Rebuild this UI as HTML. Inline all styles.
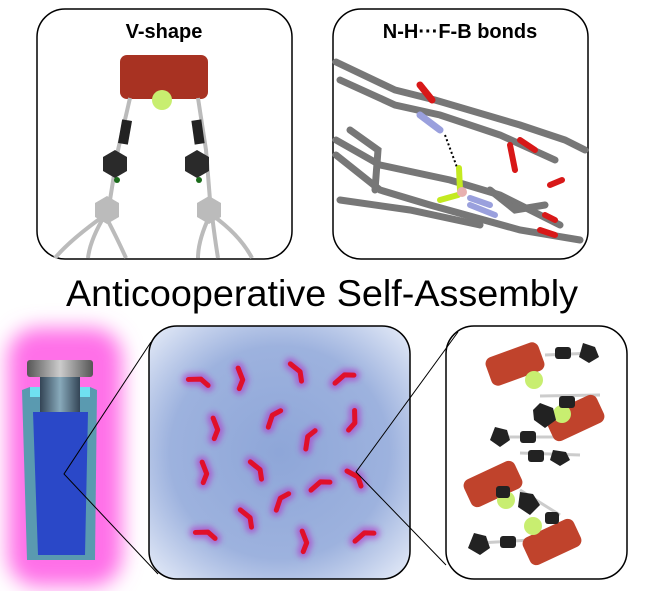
<!DOCTYPE html>
<html><head><meta charset="utf-8"><style>
html,body{margin:0;padding:0;background:#fff;}
svg{display:block;}
</style></head><body>
<svg width="650" height="591" viewBox="0 0 650 591" xmlns="http://www.w3.org/2000/svg">
<defs>
<radialGradient id="mid" cx="50%" cy="50%" r="70%">
<stop offset="0" stop-color="#8ea6d8"/><stop offset="0.6" stop-color="#9db2de"/><stop offset="1" stop-color="#e6ecf8"/>
</radialGradient>
<filter id="blur" x="-50%" y="-50%" width="200%" height="200%"><feGaussianBlur stdDeviation="10"/></filter>
<filter id="gl" x="-100%" y="-100%" width="300%" height="300%"><feGaussianBlur stdDeviation="3"/></filter>
<linearGradient id="cap" x1="0" x2="1"><stop offset="0" stop-color="#555"/><stop offset="0.5" stop-color="#ccc"/><stop offset="1" stop-color="#555"/></linearGradient>
<linearGradient id="neck" x1="0" x2="1"><stop offset="0" stop-color="#345"/><stop offset="0.5" stop-color="#8ab"/><stop offset="1" stop-color="#345"/></linearGradient>
<g id="mol"><path d="M-7,7 L-1,-4 L8,-7" fill="none" stroke="#b030c8" stroke-width="12" stroke-linecap="round" opacity="0.6" filter="url(#gl)"/><path d="M-7,7 L-1,-4 L8,-7" fill="none" stroke="#e0102a" stroke-width="5" stroke-linecap="round" stroke-linejoin="round"/></g>
<g id="blk"><rect x="-28" y="-15" width="56" height="30" rx="7" fill="#c0432c"/></g>
</defs>

<rect x="37" y="9" width="255" height="250" rx="28" fill="#fff" stroke="#000" stroke-width="1.5"/>
<text x="164" y="38" text-anchor="middle" font-family="Liberation Sans, sans-serif" font-weight="bold" font-size="20">V-shape</text>
<rect x="120" y="55" width="88" height="44" rx="7" fill="#a83222"/>
<circle cx="162" cy="100" r="10" fill="#c8ee70"/>
<g stroke="#bbb" stroke-width="4" fill="none">
<path d="M130,98 L118,150 L110,200"/><path d="M198,98 L206,150 L210,200"/>
<path d="M105,215 Q70,240 55,258"/><path d="M105,215 Q90,240 88,258"/><path d="M105,215 Q118,240 126,258"/>
<path d="M210,215 Q198,240 198,258"/><path d="M212,215 Q215,240 218,258"/><path d="M212,215 Q240,235 252,258"/>
</g>
<rect x="120" y="120" width="10" height="24" fill="#222" transform="rotate(10 125 132)"/>
<rect x="193" y="120" width="10" height="24" fill="#222" transform="rotate(-8 198 132)"/>
<polygon points="115,150 127,157 127,171 115,178 103,171 103,157" fill="#2a2a2a"/>
<polygon points="197,150 209,157 209,171 197,178 185,171 185,157" fill="#2a2a2a"/>
<circle cx="117" cy="180" r="3" fill="#1a6a1a"/><circle cx="199" cy="180" r="3" fill="#1a6a1a"/>
<polygon points="107,196 119,203 119,217 107,224 95,217 95,203" fill="#bbb"/>
<polygon points="209,196 221,203 221,217 209,224 197,217 197,203" fill="#bbb"/>

<rect x="333" y="9" width="255" height="250" rx="28" fill="#fff" stroke="#000" stroke-width="1.5"/>
<text x="460" y="38" text-anchor="middle" font-family="Liberation Sans, sans-serif" font-weight="bold" font-size="20">N-H···F-B bonds</text>
<g stroke="#777" stroke-width="7" stroke-linecap="round" fill="none">
<path d="M336,62 L395,90 L435,100 L520,125 L565,140 L585,150"/>
<path d="M340,80 L395,105 L440,115 L500,135 L555,160"/>
<path d="M336,140 L380,165 L450,180 L500,195 L560,225"/>
<path d="M336,155 L380,190 L430,205 L520,230 L580,240"/>
<path d="M350,130 L378,150 L375,190"/>
<path d="M340,200 L410,210 L480,225"/>
<path d="M490,190 L515,210 L545,205"/>
</g>
<path d="M420,115 L440,130" stroke="#9aa0dd" stroke-width="7" stroke-linecap="round"/>
<path d="M420,85 L432,100" stroke="#d81818" stroke-width="7" stroke-linecap="round"/>
<path d="M510,145 L515,170 M520,140 L535,150 M550,185 L562,180 M545,215 L555,220 M540,230 L555,235" stroke="#d81818" stroke-width="6" stroke-linecap="round"/>
<path d="M445,135 L458,170" stroke="#000" stroke-width="2" stroke-dasharray="2,2.5"/>
<path d="M459,168 L460,190 M458,195 L440,200" stroke="#c4ea20" stroke-width="6" stroke-linecap="round"/>
<circle cx="462" cy="192" r="5" fill="#e8b0b0"/>
<path d="M470,198 L490,205 M470,205 L495,215" stroke="#9aa0dd" stroke-width="6" stroke-linecap="round"/>

<text x="322" y="306" text-anchor="middle" font-family="Liberation Sans, sans-serif" font-size="37" textLength="512" lengthAdjust="spacingAndGlyphs">Anticooperative Self-Assembly</text>

<rect x="8" y="328" width="114" height="258" rx="30" fill="#ff70e8" filter="url(#blur)"/>
<path d="M22,390 L30,387 L90,387 L97,390 L95,560 L27,560 Z" fill="#5a9ab0"/>
<rect x="30" y="387" width="60" height="10" fill="#6fe0f0"/>
<rect x="40" y="375" width="40" height="37" fill="url(#neck)"/>
<path d="M33,412 L88,412 L85,555 L38,555 Z" fill="#2a48c8"/>
<rect x="27" y="360" width="66" height="17" rx="3" fill="url(#cap)"/>

<rect x="149" y="326" width="261" height="253" rx="28" fill="url(#mid)" stroke="#000" stroke-width="1.5"/>
<g>
<use href="#mol" transform="translate(198,382) rotate(60)"/>
<use href="#mol" transform="translate(239,378) rotate(130)"/>
<use href="#mol" transform="translate(296,372) rotate(100)"/>
<use href="#mol" transform="translate(344,379) rotate(20)"/>
<use href="#mol" transform="translate(214,428) rotate(130)"/>
<use href="#mol" transform="translate(274,419) rotate(-10)"/>
<use href="#mol" transform="translate(352,420) rotate(150)"/>
<use href="#mol" transform="translate(310,440) rotate(-20)"/>
<use href="#mol" transform="translate(203,472) rotate(130)"/>
<use href="#mol" transform="translate(256,470) rotate(100)"/>
<use href="#mol" transform="translate(320,486) rotate(20)"/>
<use href="#mol" transform="translate(354,478) rotate(90)"/>
<use href="#mol" transform="translate(282,502) rotate(-10)"/>
<use href="#mol" transform="translate(246,518) rotate(100)"/>
<use href="#mol" transform="translate(205,535) rotate(60)"/>
<use href="#mol" transform="translate(303,541) rotate(130)"/>
<use href="#mol" transform="translate(364,537) rotate(20)"/>
</g>

<rect x="446" y="326" width="181" height="253" rx="28" fill="#fff" stroke="#000" stroke-width="1.5"/>
<g stroke="#ccc" stroke-width="3">
<path d="M545,355 L595,353"/><path d="M540,396 L600,395"/><path d="M500,437 L560,437"/><path d="M520,453 L580,455"/><path d="M520,490 L560,515"/><path d="M480,543 L530,540"/>
</g>
<use href="#blk" transform="translate(515,364) rotate(-20)"/>
<use href="#blk" transform="translate(575,418) rotate(-25)"/>
<use href="#blk" transform="translate(493,484) rotate(-25)"/>
<use href="#blk" transform="translate(552,542) rotate(-25)"/>
<circle cx="534" cy="380" r="9" fill="#c8ee70"/><circle cx="562" cy="414" r="9" fill="#c8ee70"/>
<circle cx="506" cy="500" r="9" fill="#c8ee70"/><circle cx="533" cy="526" r="9" fill="#c8ee70"/>
<g fill="#222">
<rect x="555" y="347" width="16" height="12" rx="3"/><polygon points="583,343 595,347 599,357 589,363 579,357"/>
<polygon points="540,403 553,408 556,420 545,428 534,420 533,410"/><rect x="559" y="396" width="16" height="12" rx="3"/>
<polygon points="495,427 507,430 510,440 500,447 490,440"/><rect x="520" y="431" width="16" height="12" rx="3"/>
<rect x="528" y="450" width="16" height="12" rx="3"/><polygon points="553,450 566,452 570,460 560,466 550,460"/>
<rect x="496" y="486" width="14" height="12" rx="3"/><polygon points="520,492 533,494 540,505 530,515 518,507"/><rect x="545" y="512" width="14" height="12" rx="3"/>
<polygon points="474,533 486,536 490,548 480,555 468,548"/><rect x="500" y="536" width="16" height="12" rx="3"/>
</g>

<g stroke="#000" stroke-width="1" fill="none">
<path d="M151,342 L64,474 L158,574"/>
<path d="M458,332 L356,472 L446,565"/>
</g>
</svg>
</body></html>
